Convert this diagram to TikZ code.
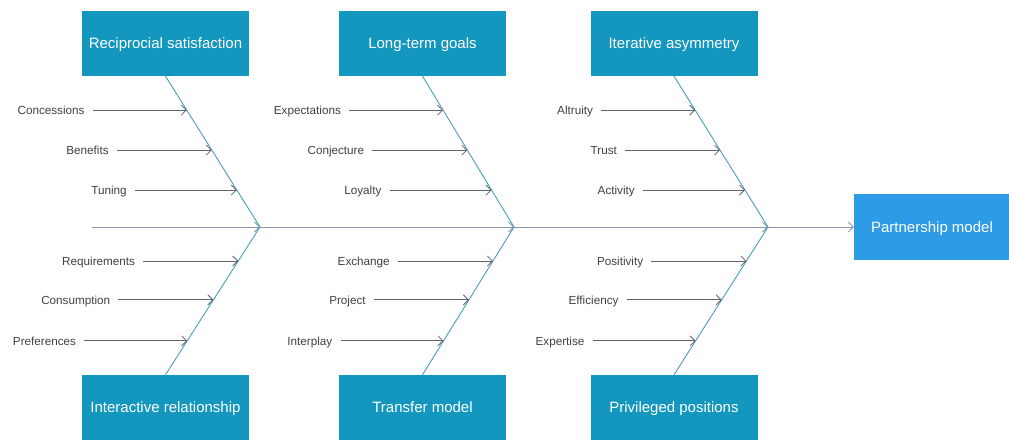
\documentclass[tikz,border=0pt]{standalone}
\usepackage{fontspec}
\setmainfont{Liberation Sans}
\usetikzlibrary{arrows.meta}
\definecolor{boxblue}{HTML}{1497BE}
\definecolor{partblue}{HTML}{2E9BE6}
\definecolor{bonecol}{HTML}{4A9EB6}
\definecolor{spinecol}{HTML}{8A96B0}
\definecolor{subcol}{HTML}{5F6368}
\definecolor{labcol}{HTML}{404040}
\begin{document}
\begin{tikzpicture}[x=1pt,y=-1pt,
  cat/.style={fill=boxblue, text=white, minimum width=167pt, minimum height=65pt, inner sep=0pt, text height=10.8pt, text depth=0pt, font=\fontsize{15}{18}\selectfont},
  effect/.style={fill=partblue, text=white, minimum width=156pt, minimum height=66pt, inner sep=0pt, text height=10.8pt, text depth=0pt, font=\fontsize{15}{18}\selectfont},
  lbl/.style={text=labcol, font=\fontsize{11.7}{14}\selectfont, inner xsep=8pt, inner ysep=1pt, text height=8.4pt, text depth=0pt, anchor=east},
  sub/.style={draw=subcol, line width=0.8pt, -{Straight Barb[length=5pt,width=10pt]}},
  bone/.style={draw=bonecol, line width=0.9pt},
  spine/.style={draw=spinecol, line width=0.8pt, -{Straight Barb[length=5pt,width=10pt]}}]
\useasboundingbox (0,0) rectangle (1009,439);

% category boxes
\node[cat] (A) at (165.5,43.5) {Reciprocial satisfaction};
\node[cat] (B) at (422.5,43.5) {Long-term goals};
\node[cat] (C) at (674,43.5) {Iterative asymmetry};
\node[cat] (D) at (165.5,407.5) {Interactive relationship};
\node[cat] (E) at (422.5,407.5) {Transfer model};
\node[cat] (F) at (674,407.5) {Privileged positions};
\node[effect] (P) at (932,227) {Partnership model};

% spine
\coordinate (s0) at (92,227);
\coordinate (j1) at (260,227);
\coordinate (j2) at (514,227);
\coordinate (j3) at (768,227);
\draw[spine] (s0) -- (j1);
\draw[spine] (j1) -- (j2);
\draw[spine] (j2) -- (j3);
\draw[spine] (j3) -- (P);

% bones
\draw[bone] (A.south) -- (j1) -- (D.north);
\draw[bone] (B.south) -- (j2) -- (E.north);
\draw[bone] (C.south) -- (j3) -- (F.north);

\path (A.south) -- (j1) coordinate[pos=.225] (a1) coordinate[pos=.49] (a2) coordinate[pos=.755] (a3);
\path (j1) -- (D.north) coordinate[pos=.23] (d1) coordinate[pos=.493] (d2) coordinate[pos=.77] (d3);
\path (B.south) -- (j2) coordinate[pos=.225] (b1) coordinate[pos=.49] (b2) coordinate[pos=.755] (b3);
\path (j2) -- (E.north) coordinate[pos=.23] (e1) coordinate[pos=.493] (e2) coordinate[pos=.77] (e3);
\path (C.south) -- (j3) coordinate[pos=.225] (c1) coordinate[pos=.49] (c2) coordinate[pos=.755] (c3);
\path (j3) -- (F.north) coordinate[pos=.23] (f1) coordinate[pos=.493] (f2) coordinate[pos=.77] (f3);

% causes, group A
\node[lbl] (la1) at ([xshift=-94pt]a1) {Concessions};
\node[lbl] (la2) at ([xshift=-95pt]a2) {Benefits};
\node[lbl] (la3) at ([xshift=-102pt]a3) {Tuning};
\node[lbl] (ld1) at ([xshift=-95pt]d1) {Requirements};
\node[lbl] (ld2) at ([xshift=-95pt]d2) {Consumption};
\node[lbl] (ld3) at ([xshift=-103pt]d3) {Preferences};
\draw[sub] (la1) -- (a1);
\draw[sub] (la2) -- (a2);
\draw[sub] (la3) -- (a3);
\draw[sub] (ld1) -- (d1);
\draw[sub] (ld2) -- (d2);
\draw[sub] (ld3) -- (d3);

% group B
\node[lbl] (lb1) at ([xshift=-94pt]b1) {Expectations};
\node[lbl] (lb2) at ([xshift=-95pt]b2) {Conjecture};
\node[lbl] (lb3) at ([xshift=-102pt]b3) {Loyalty};
\node[lbl] (le1) at ([xshift=-95pt]e1) {Exchange};
\node[lbl] (le2) at ([xshift=-95pt]e2) {Project};
\node[lbl] (le3) at ([xshift=-103pt]e3) {Interplay};
\draw[sub] (lb1) -- (b1);
\draw[sub] (lb2) -- (b2);
\draw[sub] (lb3) -- (b3);
\draw[sub] (le1) -- (e1);
\draw[sub] (le2) -- (e2);
\draw[sub] (le3) -- (e3);

% group C
\node[lbl] (lc1) at ([xshift=-94pt]c1) {Altruity};
\node[lbl] (lc2) at ([xshift=-95pt]c2) {Trust};
\node[lbl] (lc3) at ([xshift=-102pt]c3) {Activity};
\node[lbl] (lf1) at ([xshift=-95pt]f1) {Positivity};
\node[lbl] (lf2) at ([xshift=-95pt]f2) {Efficiency};
\node[lbl] (lf3) at ([xshift=-103pt]f3) {Expertise};
\draw[sub] (lc1) -- (c1);
\draw[sub] (lc2) -- (c2);
\draw[sub] (lc3) -- (c3);
\draw[sub] (lf1) -- (f1);
\draw[sub] (lf2) -- (f2);
\draw[sub] (lf3) -- (f3);
\end{tikzpicture}
\end{document}
